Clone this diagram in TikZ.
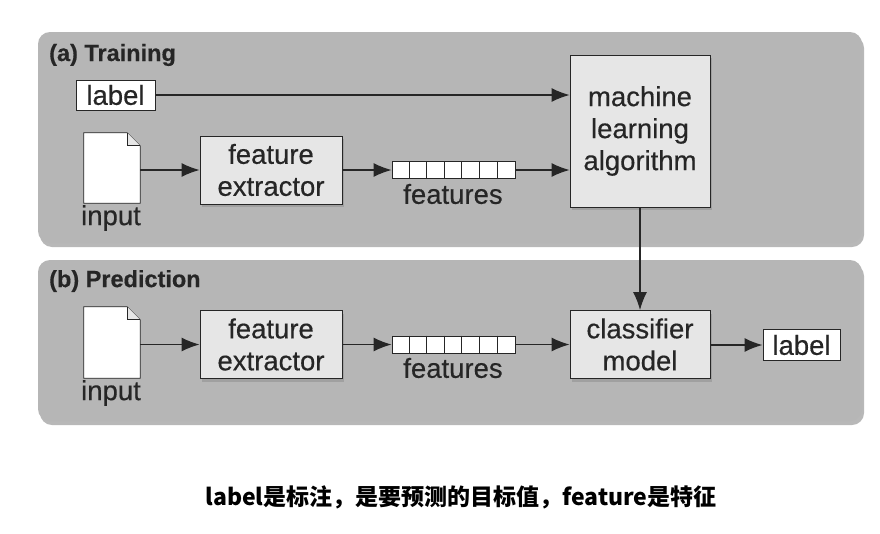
\documentclass[tikz,border=0pt]{standalone}
\usepackage{fontspec}
\setmainfont{Liberation Sans}[FakeBold=0.4]
\newfontfamily\cjk{Noto Sans CJK SC}
\usetikzlibrary{arrows.meta,shadows}
\definecolor{panelgray}{HTML}{B6B6B6}
\definecolor{boxgray}{HTML}{E6E6E6}
\definecolor{linegray}{HTML}{262626}
\tikzset{
  panel/.style={fill=panelgray, rounded corners=12pt,
    drop shadow={shadow xshift=2pt, shadow yshift=-4pt, opacity=0.5, fill=black!55}},
  txt/.style={font=\fontsize{27.5}{32}\selectfont, inner sep=0pt, text=linegray},
  box/.style={draw=linegray, fill=boxgray, line width=0.8pt, align=center,
    font=\fontsize{27.5}{32}\selectfont, text=linegray,
    drop shadow={shadow xshift=2pt, shadow yshift=-3pt, opacity=0.4}},
  lblbox/.style={draw=linegray, fill=white, line width=1pt, text=linegray,
    font=\fontsize{27.5}{32}\selectfont, inner sep=0pt},
  docnode/.style={minimum width=56pt, minimum height=70pt, inner sep=0pt},
  doc/.style={draw=linegray, fill=white, line width=0.8pt},
  featarr/.style={draw=linegray, fill=white, line width=0.8pt,
    minimum width=123pt, minimum height=17pt, inner sep=0pt},
  heading/.style={font=\fontsize{23.5}{26}\selectfont\bfseries, inner sep=0pt, anchor=west, text=linegray},
  arr/.style={-{Latex[length=18pt,width=14pt]}, line width=1.4pt, draw=linegray},
}
\begin{document}
\begin{tikzpicture}[x=1pt,y=-1pt]
\fill[white] (0,0) rectangle (880,533);
\useasboundingbox (0,0) rectangle (880,533);

% panels
\path[panel] (38,32) rectangle (862,243);
\path[panel] (38,260) rectangle (862,421);

% (a) Training
\node[heading] (ha) at (49,55) {(a) Training};
\node[lblbox, minimum width=79pt, minimum height=30pt] (lab1) at (115.5,95) {label};
\node[docnode] (in1) at (112,168) {};
\draw[doc] (in1.north west) -- ([xshift=-13pt]in1.north east) -- ([yshift=-13pt]in1.north east) -- (in1.south east) -- (in1.south west) -- cycle;
\draw[doc, fill=boxgray] ([xshift=-13pt]in1.north east) |- ([yshift=-13pt]in1.north east);
\node[txt] (inl1) at (111,218) {input};
\node[box, minimum width=142pt, minimum height=68pt] (fe1) at (271,170) {feature\\extractor};
\node[featarr] (ft1) at (453.5,170) {};
\foreach \i in {1,...,6}
  \draw[linegray, line width=0.8pt] ([xshift=\i*17.571pt]ft1.north west) -- ([xshift=\i*17.571pt]ft1.south west);
\node[txt] (ftl1) at (453,194) {features};
\node[box, minimum width=140pt, minimum height=152pt] (ml) at (640,131) {machine\\learning\\algorithm};

\draw[arr] (lab1.east) -- (lab1.east -| ml.west);
\draw[arr] (in1.east |- fe1.west) -- (fe1.west);
\draw[arr] (fe1.east) -- (ft1.west);
\draw[arr] (ft1.east) -- (ft1.east -| ml.west);

% (b) Prediction
\node[heading] (hb) at (49,281) {(b) Prediction};
\node[docnode, minimum height=71pt] (in2) at (112,342.5) {};
\draw[doc] (in2.north west) -- ([xshift=-13pt]in2.north east) -- ([yshift=-13pt]in2.north east) -- (in2.south east) -- (in2.south west) -- cycle;
\draw[doc, fill=boxgray] ([xshift=-13pt]in2.north east) |- ([yshift=-13pt]in2.north east);
\node[txt] (inl2) at (111,393) {input};
\node[box, minimum width=142pt, minimum height=68pt] (fe2) at (271,344.5) {feature\\extractor};
\node[featarr] (ft2) at (453.5,344.5) {};
\foreach \i in {1,...,6}
  \draw[linegray, line width=0.8pt] ([xshift=\i*17.571pt]ft2.north west) -- ([xshift=\i*17.571pt]ft2.south west);
\node[txt] (ftl2) at (453,368) {features};
\node[box, minimum width=140pt, minimum height=68pt] (cl) at (640,344.5) {classifier\\model};
\node[lblbox, minimum width=77pt, minimum height=31pt] (lab2) at (801.5,345) {label};

\draw[arr] (in2.east |- fe2.west) -- (fe2.west);
\draw[arr] (fe2.east) -- (ft2.west);
\draw[arr] (ft2.east) -- (ft2.east -| cl.west);
\draw[arr] (cl.east |- lab2.west) -- (lab2.west);
\draw[arr] (ml.south) -- (cl.north);

% caption
\node[font=\cjk\bfseries\fontsize{23}{26}\selectfont, inner sep=0pt] (cap) at (461,497) {label是标注，是要预测的目标值，feature是特征};
\end{tikzpicture}
\end{document}
